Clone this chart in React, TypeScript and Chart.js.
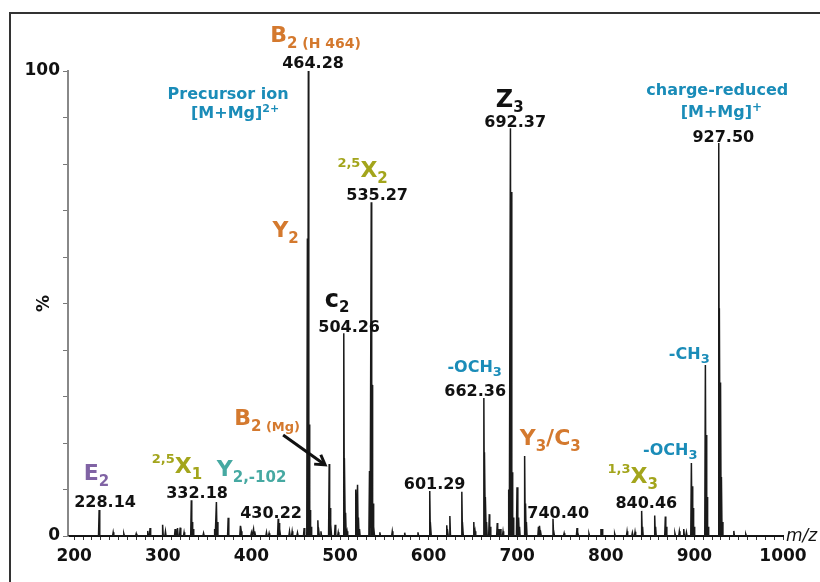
import React, { useEffect, useRef } from 'react';
import { Chart, registerables } from 'chart.js';
Chart.register(...registerables);

// ---------- data ----------
// Annotated (labelled) peaks
const labelledMz = [228.14, 332.18, 430.22, 463.2, 464.28, 487.8, 504.26, 535.27, 601.29, 662.36, 692.37, 708.4, 740.4, 840.46, 896.6, 912.4, 927.5];
const labelledInt = [5.6, 7.7, 3.7, 64, 100, 15.5, 43.6, 71.8, 9.7, 29.7, 87.7, 17.2, 3.7, 5.4, 15.7, 36.8, 84.5];

// Isotope / neighbouring peaks
const isotopeMz = [333.2, 334.2, 361.5, 388.6, 431.2, 432.2, 465.3, 466.3, 467.3, 476, 488.8, 489.8, 505.3, 506.3, 520.8, 533.3, 536.3, 537.3, 538.3, 602.3, 621.5, 638.5, 652.5, 663.4, 664.4, 665.4, 669.5, 678.5, 690.4, 693.4, 694.4, 695.4, 701.6, 702.6, 709.4, 710.4, 726.5, 741.4, 768.5, 841.5, 856.2, 868.2, 897.6, 898.6, 899.6, 913.4, 914.4, 915.4, 928.5, 929.5, 930.5, 931.5];
const isotopeInt = [3.0, 1.5, 3.0, 1.0, 2.8, 1.5, 24, 5.6, 2, 1.8, 6, 2.5, 16.7, 5, 4, 14, 32.5, 7, 2, 3, 1.5, 3, 1, 18, 8.4, 3, 2, 1.5, 10, 74, 13.7, 4, 4, 2, 7, 3, 1.2, 1.2, 0.8, 2, 2, 2, 10.7, 6, 2, 21.7, 8.4, 2, 49, 33, 12.7, 3];

// Other minor peaks
const minorMz = [244, 256, 270, 283, 285.6, 299.8, 303, 313.9, 316.6, 319.6, 324, 346, 358.5, 360.5, 373.8, 387.6, 400, 402.4, 404, 417, 420, 443, 446, 452, 459.5, 475, 478.5, 494.5, 498, 508, 517.8, 519.8, 522, 545, 559, 573, 588, 620.5, 624, 637.5, 651, 668.5, 677.5, 681, 684, 699.8, 724, 725.5, 753, 767.5, 781, 794.5, 795.8, 810, 824, 830, 833, 855.2, 867.2, 878, 883, 888, 891, 944.5, 958];
const minorInt = [0.8, 0.5, 0.5, 1.1, 1.7, 2.4, 1.0, 1.5, 1.7, 1.8, 0.8, 0.6, 1.5, 7.3, 3.9, 2.2, 0.7, 1.5, 1.0, 0.8, 0.6, 1.0, 1.0, 0.7, 1.7, 3.4, 1, 2.4, 0.8, 1, 10, 11, 1.5, 0.8, 1, 0.7, 0.8, 2.3, 4.3, 9.5, 3, 4.7, 2.8, 1.5, 1, 10.5, 2, 2.2, 0.6, 1.7, 0.5, 1.5, 1.5, 0.5, 1, 0.7, 0.9, 4.4, 4.2, 0.6, 1, 1.5, 0.8, 1.1, 0.4];

// Axis ticks
const xLabelTicks = [200, 300, 400, 500, 600, 700, 800, 900, 1000];
const yLabelTicks = [0, 100];
const X_MIN = 193;
const X_MAX = 1000;

// ---------- styles ----------
const FONT = '"DejaVu Sans", Verdana, sans-serif';
const ORANGE = '#D4792E';
const BLUE = '#1A8CB8';
const OLIVE = '#A3A51C';
const PURPLE = '#8063A4';
const TEAL = '#46A9A2';
const BLACK = '#111111';

type Part = { t: string; size: number; color: string; dy?: number };
const big = (t: string, color: string): Part => ({ t, size: 22, color });
const sub = (t: string, color: string, size = 15): Part => ({ t, size, color, dy: 6 });
const sup = (t: string, color: string, size = 13): Part => ({ t, size, color, dy: -10 });
const txt = (t: string, color: string, size = 16): Part => ({ t, size, color });

// label anchors in data space: m/z centre, intensity baseline
const annotations: { mz: number; pct: number; parts: Part[] }[] = [
  { mz: 472.5, pct: 106.2, parts: [big('B', ORANGE), sub('2', ORANGE), sub(' (H 464)', ORANGE, 14)] },
  { mz: 469.6, pct: 100.6, parts: [txt('464.28', BLACK)] },
  { mz: 373.7, pct: 93.9, parts: [txt('Precursor ion', BLUE)] },
  { mz: 381.6, pct: 89.9, parts: [txt('[M+Mg]', BLUE), { t: '2+', size: 11, color: BLUE, dy: -6 }] },
  { mz: 438.6, pct: 64.4, parts: [big('Y', ORANGE), sub('2', ORANGE)] },
  { mz: 525.5, pct: 77.2, parts: [sup('2,5', OLIVE), big('X', OLIVE), sub('2', OLIVE)] },
  { mz: 541.9, pct: 72.3, parts: [txt('535.27', BLACK)] },
  { mz: 691.5, pct: 92.2, parts: [{ t: 'Z', size: 24, color: BLACK }, { t: '3', size: 15, color: BLACK, dy: 5 }] },
  { mz: 697.7, pct: 88.0, parts: [txt('692.37', BLACK)] },
  { mz: 925.8, pct: 94.8, parts: [txt('charge-reduced', BLUE)] },
  { mz: 930.4, pct: 90.2, parts: [txt('[M+Mg]', BLUE), { t: '+', size: 12, color: BLUE, dy: -6 }] },
  { mz: 932.6, pct: 84.8, parts: [txt('927.50', BLACK)] },
  { mz: 496.7, pct: 49.3, parts: [{ t: 'c', size: 24, color: BLACK }, { t: '2', size: 15, color: BLACK, dy: 5 }] },
  { mz: 510.3, pct: 43.9, parts: [txt('504.26', BLACK)] },
  { mz: 417.7, pct: 23.9, parts: [big('B', ORANGE), sub('2', ORANGE), sub(' (Mg)', ORANGE, 13)] },
  { mz: 225.2, pct: 12.0, parts: [big('E', PURPLE), sub('2', PURPLE)] },
  { mz: 234.8, pct: 6.2, parts: [txt('228.14', BLACK)] },
  { mz: 316.0, pct: 13.5, parts: [sup('2,5', OLIVE), big('X', OLIVE), sub('1', OLIVE)] },
  { mz: 400.2, pct: 12.8, parts: [big('Y', TEAL), sub('2,-102', TEAL)] },
  { mz: 338.7, pct: 8.1, parts: [txt('332.18', BLACK)] },
  { mz: 422.2, pct: 3.9, parts: [txt('430.22', BLACK)] },
  { mz: 606.8, pct: 10.1, parts: [txt('601.29', BLACK)] },
  { mz: 652.0, pct: 35.3, parts: [txt('-OCH', BLUE), { t: '3', size: 13, color: BLUE, dy: 4 }] },
  { mz: 652.6, pct: 30.1, parts: [txt('662.36', BLACK)] },
  { mz: 737.3, pct: 19.6, parts: [big('Y', ORANGE), sub('3', ORANGE), big('/', ORANGE), big('C', ORANGE), sub('3', ORANGE)] },
  { mz: 746.3, pct: 3.8, parts: [txt('740.40', BLACK)] },
  { mz: 830.4, pct: 11.3, parts: [sup('1,3', OLIVE), big('X', OLIVE), sub('3', OLIVE)] },
  { mz: 845.7, pct: 6.0, parts: [txt('840.46', BLACK)] },
  { mz: 872.8, pct: 17.4, parts: [txt('-OCH', BLUE), { t: '3', size: 13, color: BLUE, dy: 4 }] },
  { mz: 894.2, pct: 38.1, parts: [txt('-CH', BLUE), { t: '3', size: 13, color: BLUE, dy: 4 }] },
];

// arrow pointing at B2 (Mg) peak, data space
const arrowFrom = { mz: 435.8, pct: 21.7 };
const arrowTo = { mz: 483.2, pct: 15.3 };

function buildSpectrum() {
  const peaks: { m: number; h: number }[] = [];
  labelledMz.forEach((m, i) => peaks.push({ m, h: labelledInt[i] }));
  isotopeMz.forEach((m, i) => peaks.push({ m, h: isotopeInt[i] }));
  minorMz.forEach((m, i) => peaks.push({ m, h: minorInt[i] }));
  peaks.sort((a, b) => a.m - b.m);
  const pts: { x: number; y: number }[] = [{ x: X_MIN, y: 0 }];
  const hw = 0.7;
  peaks.forEach((p) => {
    pts.push({ x: p.m - hw, y: 0 });
    pts.push({ x: p.m, y: p.h });
    pts.push({ x: p.m + hw, y: 0 });
  });
  pts.push({ x: X_MAX, y: 0 });
  return pts;
}

function drawRich(ctx: CanvasRenderingContext2D, parts: Part[], cx: number, by: number) {
  const widths = parts.map((p) => {
    ctx.font = `bold ${p.size}px ${FONT}`;
    return ctx.measureText(p.t).width;
  });
  const total = widths.reduce((a, b) => a + b, 0);
  let x = cx - total / 2;
  ctx.textAlign = 'left';
  ctx.textBaseline = 'alphabetic';
  parts.forEach((p, i) => {
    ctx.font = `bold ${p.size}px ${FONT}`;
    ctx.fillStyle = p.color;
    ctx.fillText(p.t, x, by + (p.dy || 0));
    x += widths[i];
  });
}

const overlayPlugin = {
  id: 'overlay',
  beforeDraw(chart: any) {
    const ctx = chart.ctx as CanvasRenderingContext2D;
    ctx.save();
    ctx.fillStyle = '#ffffff';
    ctx.fillRect(0, 0, chart.width, chart.height);
    ctx.strokeStyle = '#333333';
    ctx.lineWidth = 2;
    ctx.beginPath();
    ctx.moveTo(10, chart.height + 2);
    ctx.lineTo(10, 13);
    ctx.lineTo(chart.width + 2, 13);
    ctx.stroke();
    ctx.restore();
  },
  afterDraw(chart: any) {
    const ctx = chart.ctx as CanvasRenderingContext2D;
    const xs = chart.scales.x;
    const ys = chart.scales.y;
    const area = chart.chartArea;
    ctx.save();
    annotations.forEach((a) => {
      drawRich(ctx, a.parts, xs.getPixelForValue(a.mz), ys.getPixelForValue(a.pct));
    });
    // arrow
    const x1 = xs.getPixelForValue(arrowFrom.mz);
    const y1 = ys.getPixelForValue(arrowFrom.pct);
    const x2 = xs.getPixelForValue(arrowTo.mz);
    const y2 = ys.getPixelForValue(arrowTo.pct);
    const ang = Math.atan2(y2 - y1, x2 - x1);
    ctx.strokeStyle = '#111';
    ctx.lineWidth = 3;
    ctx.lineCap = 'butt';
    ctx.beginPath();
    ctx.moveTo(x1, y1);
    ctx.lineTo(x2 - 2 * Math.cos(ang), y2 - 2 * Math.sin(ang));
    ctx.stroke();
    const L = 11;
    ctx.beginPath();
    ctx.moveTo(x2 - L * Math.cos(ang - 0.55), y2 - L * Math.sin(ang - 0.55));
    ctx.lineTo(x2, y2);
    ctx.lineTo(x2 - L * Math.cos(ang + 0.55), y2 - L * Math.sin(ang + 0.55));
    ctx.stroke();
    // y-axis title "%"
    ctx.save();
    ctx.translate(area.left - 23, (area.top + area.bottom) / 2);
    ctx.rotate(-Math.PI / 2);
    ctx.font = `bold 17px ${FONT}`;
    ctx.fillStyle = BLACK;
    ctx.textAlign = 'center';
    ctx.textBaseline = 'middle';
    ctx.fillText('%', 0, 0);
    ctx.restore();
    // x-axis title "m/z"
    ctx.font = `italic 17px ${FONT}`;
    ctx.fillStyle = BLACK;
    ctx.textAlign = 'left';
    ctx.textBaseline = 'alphabetic';
    ctx.fillText('m/z', area.right + 3, area.bottom + 5);
    ctx.restore();
  },
};

export default function App() {
  const ref = useRef<HTMLCanvasElement | null>(null);
  useEffect(() => {
    document.body.style.margin = '0';
    const canvas = ref.current!;
    const minorTicks: number[] = [];
    for (let v = 200; v <= X_MAX; v += 10) minorTicks.push(v);
    const chart = new Chart(canvas, {
      type: 'line',
      data: {
        datasets: [
          {
            data: buildSpectrum(),
            borderColor: '#1a1a1a',
            borderWidth: 1.5,
            pointRadius: 0,
            tension: 0,
            fill: false,
          },
        ],
      },
      options: {
        animation: false,
        responsive: false,
        devicePixelRatio: 1,
        parsing: false as any,
        layout: { padding: { top: 71, right: 37, left: 0, bottom: 0 } },
        plugins: { legend: { display: false }, tooltip: { enabled: false } },
        scales: {
          x: {
            type: 'linear',
            min: X_MIN,
            max: X_MAX,
            afterBuildTicks: (scale: any) => {
              scale.ticks = minorTicks.map((v) => ({ value: v }));
            },
            afterFit: (scale: any) => {
              scale.height = 46;
            },
            border: { color: '#111', width: 2 },
            grid: { drawOnChartArea: false, tickLength: 4, color: '#333', lineWidth: 1 },
            ticks: {
              autoSkip: false,
              maxRotation: 0,
              padding: 6,
              color: BLACK,
              font: { family: FONT, size: 17, weight: 'bold' },
              callback: (v: any) => (xLabelTicks.includes(Number(v)) ? String(v) : ''),
            },
          },
          y: {
            type: 'linear',
            min: 0,
            max: 100,
            afterFit: (scale: any) => {
              scale.width = 68;
            },
            border: { color: '#888', width: 2 },
            grid: { drawOnChartArea: false, tickLength: 5, color: '#777', lineWidth: 1 },
            ticks: {
              stepSize: 10,
              autoSkip: false,
              padding: 3,
              color: BLACK,
              font: { family: FONT, size: 17, weight: 'bold' },
              callback: (v: any) => (yLabelTicks.includes(Number(v)) ? String(v) : ''),
            },
          },
        },
      },
      plugins: [overlayPlugin],
    } as any);
    return () => chart.destroy();
  }, []);
  return <canvas ref={ref} width={820} height={582} style={{ display: 'block' }} />;
}
